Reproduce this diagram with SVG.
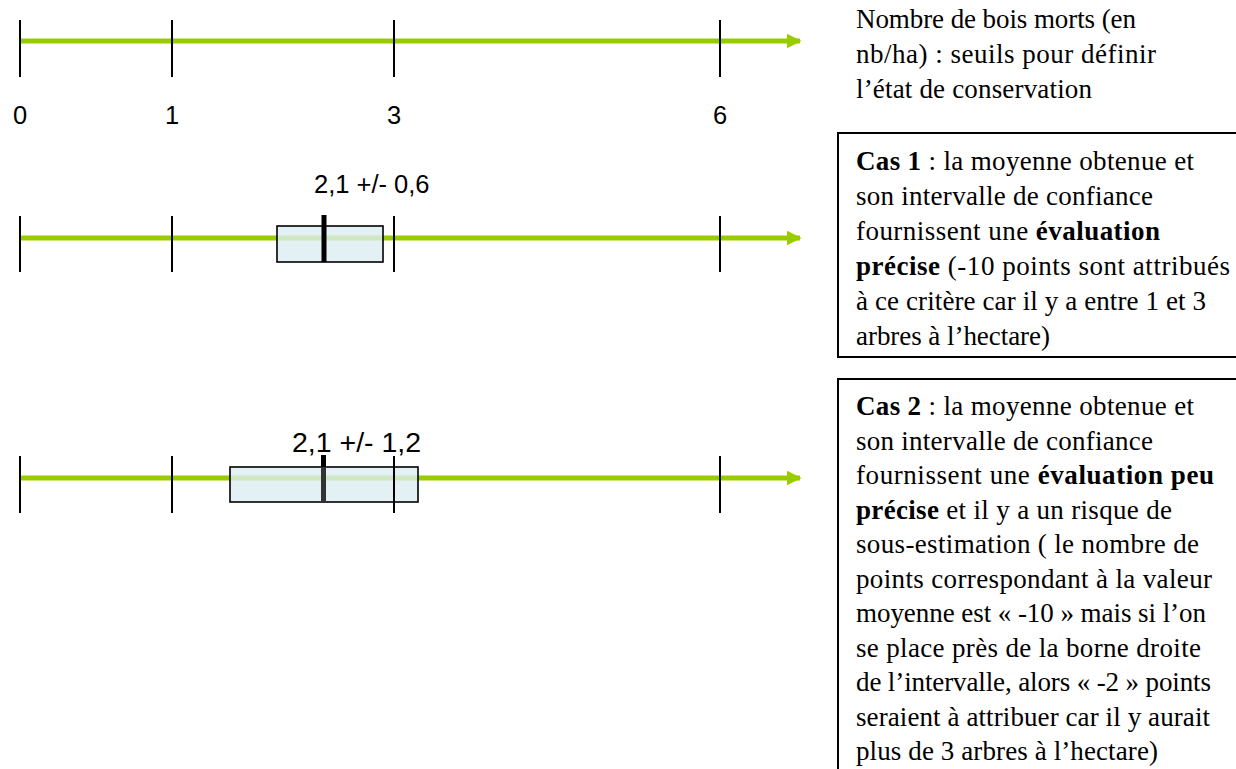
<svg xmlns="http://www.w3.org/2000/svg" width="1236" height="769" viewBox="0 0 1236 769">
<style>
.axis{stroke:#99CC00;stroke-width:5;fill:none}
.tick{stroke:#000;stroke-width:2}
.num{font-family:'Liberation Sans',Arial,sans-serif;font-size:25.5px;fill:#000}
.txt{font-family:'Liberation Serif','Times New Roman',serif;font-size:27px;fill:#000}
.b{font-weight:bold}
.ci{fill:#dcEEF3;fill-opacity:0.8;stroke:#000;stroke-width:1.6}
.frame{fill:#fff;stroke:#000;stroke-width:2}
</style>
<defs>
<marker id="arr" viewBox="0 0 10 10" refX="9" refY="5" markerWidth="3" markerHeight="3" markerUnits="strokeWidth" orient="auto">
<path d="M0,0 L10,5 L0,10 z" fill="#99CC00"/>
</marker>
</defs>
<rect width="1236" height="769" fill="#fff"/>
<g id="connectors">
<line class="axis" x1="20" y1="41" x2="800" y2="41" marker-end="url(#arr)"/>
<line class="axis" x1="20" y1="238" x2="800" y2="238" marker-end="url(#arr)"/>
<line class="axis" x1="20" y1="478" x2="800" y2="478" marker-end="url(#arr)"/>
</g>
<g id="axis1">
<line class="tick" x1="20" y1="20" x2="20" y2="77"/>
<line class="tick" x1="172" y1="20" x2="172" y2="77"/>
<line class="tick" x1="394" y1="20" x2="394" y2="77"/>
<line class="tick" x1="720" y1="20" x2="720" y2="77"/>
<text class="num" x="20" y="124" text-anchor="middle">0</text>
<text class="num" x="172" y="124" text-anchor="middle">1</text>
<text class="num" x="394" y="124" text-anchor="middle">3</text>
<text class="num" x="720" y="124" text-anchor="middle">6</text>
</g>
<g id="axis2">
<line class="tick" x1="20" y1="216" x2="20" y2="272"/>
<line class="tick" x1="172" y1="216" x2="172" y2="272"/>
<line class="tick" x1="394" y1="216" x2="394" y2="272"/>
<line class="tick" x1="720" y1="216" x2="720" y2="272"/>
<rect class="ci" x="277" y="226" width="106" height="36"/>
<rect x="321.5" y="215" width="5" height="47" fill="#000"/>
<text class="num" x="314" y="193">2,1 +/- 0,6</text>
</g>
<g id="axis3">
<line class="tick" x1="20" y1="456" x2="20" y2="513"/>
<line class="tick" x1="172" y1="456" x2="172" y2="513"/>
<line class="tick" x1="720" y1="456" x2="720" y2="513"/>
<rect class="ci" x="230" y="467" width="188" height="35"/>
<line class="tick" x1="394" y1="456" x2="394" y2="513"/>
<rect x="321" y="455" width="5" height="12" fill="#000"/>
<rect x="321" y="467" width="5" height="35" fill="#333"/>
<text class="num" x="292" y="452" style="font-size:28.5px">2,1 +/- 1,2</text>
</g>
<g id="title">
<text class="txt" x="856" y="28" textLength="280" lengthAdjust="spacing">Nombre de bois morts (en</text>
<text class="txt" x="856" y="63" textLength="300" lengthAdjust="spacing">nb/ha) : seuils pour définir</text>
<text class="txt" x="856" y="98" textLength="236" lengthAdjust="spacing">l’état de conservation</text>
</g>
<g id="cas1">
<rect class="frame" x="838" y="133" width="410" height="224"/>
<text class="txt" x="856" y="170" textLength="338" lengthAdjust="spacing"><tspan class="b">Cas 1</tspan> : la moyenne obtenue et</text>
<text class="txt" x="856" y="205" textLength="297" lengthAdjust="spacing">son intervalle de confiance</text>
<text class="txt" x="856" y="240" textLength="304" lengthAdjust="spacing">fournissent une <tspan class="b">évaluation</tspan></text>
<text class="txt" x="856" y="275" textLength="374" lengthAdjust="spacing"><tspan class="b">précise</tspan> (-10 points sont attribués</text>
<text class="txt" x="856" y="310" textLength="350" lengthAdjust="spacing">à ce critère car il y a entre 1 et 3</text>
<text class="txt" x="856" y="345" textLength="194" lengthAdjust="spacing">arbres à l’hectare)</text>
</g>
<g id="cas2">
<rect class="frame" x="838" y="379" width="410" height="400"/>
<text class="txt" x="856" y="415" textLength="338" lengthAdjust="spacing"><tspan class="b">Cas 2</tspan> : la moyenne obtenue et</text>
<text class="txt" x="856" y="449.5" textLength="297" lengthAdjust="spacing">son intervalle de confiance</text>
<text class="txt" x="856" y="484" textLength="358" lengthAdjust="spacing">fournissent une <tspan class="b">évaluation peu</tspan></text>
<text class="txt" x="856" y="518.5" textLength="316" lengthAdjust="spacing"><tspan class="b">précise</tspan> et il y a un risque de</text>
<text class="txt" x="856" y="553" textLength="343" lengthAdjust="spacing">sous-estimation ( le nombre de</text>
<text class="txt" x="856" y="587.5" textLength="356" lengthAdjust="spacing">points correspondant à la valeur</text>
<text class="txt" x="856" y="622" textLength="350" lengthAdjust="spacing">moyenne est « -10 » mais si l’on</text>
<text class="txt" x="856" y="656.5" textLength="345" lengthAdjust="spacing">se place près de la borne droite</text>
<text class="txt" x="856" y="691" textLength="355" lengthAdjust="spacing">de l’intervalle, alors « -2 » points</text>
<text class="txt" x="856" y="725.5" textLength="354" lengthAdjust="spacing">seraient à attribuer car il y aurait</text>
<text class="txt" x="856" y="760" textLength="302" lengthAdjust="spacing">plus de 3 arbres à l’hectare)</text>
</g>
</svg>
